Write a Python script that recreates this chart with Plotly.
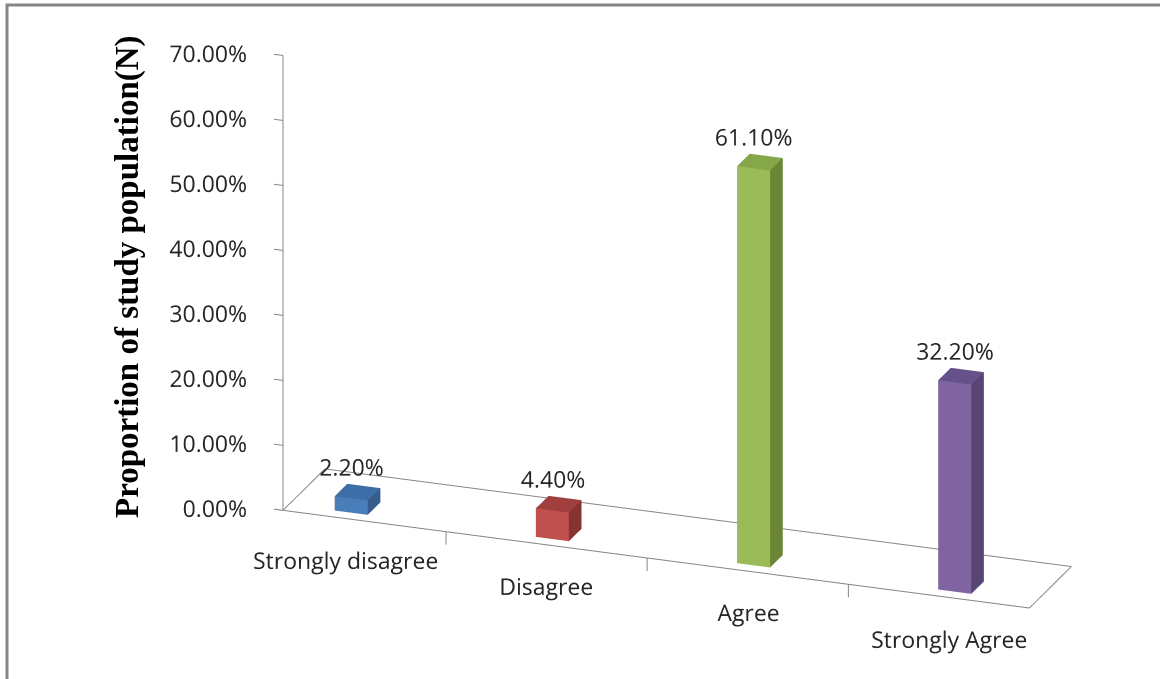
import math
import plotly.graph_objects as go

# ---------------- data ----------------
categories = ["Strongly disagree", "Disagree", "Agree", "Strongly Agree"]
values = [0.022, 0.044, 0.611, 0.322]
value_labels = ["2.20%", "4.40%", "61.10%", "32.20%"]
tick_values = [0.0, 0.1, 0.2, 0.3, 0.4, 0.5, 0.6, 0.7]
tick_labels = ["0.00%", "10.00%", "20.00%", "30.00%", "40.00%", "50.00%", "60.00%", "70.00%"]
y_title = "Proportion of study population(N)"

front_colors = ["#4A7EBB", "#C0504D", "#9BBB59", "#8064A2"]
side_colors = ["#355C8C", "#873331", "#6A8536", "#584475"]
top_colors = ["#3E6EA8", "#A0403E", "#86A64A", "#67518A"]

# ---------------- geometry / style ----------------
AXIS_COLOR = "#868686"
TEXT_COLOR = "#262626"
FONT = "Open Sans"
FX0, FX1 = -0.31, len(categories) - 0.6      # floor extent (category axis)
FY0, FY1 = -0.5, 0.5                          # floor extent (depth)
ZMAX = tick_values[-1]
BAR_HALF_W = 0.082
BAR_Y0, BAR_Y1 = -0.36, -0.06

fig = go.Figure()

# bars as boxes
for i, (v, fc, sc, tc) in enumerate(zip(values, front_colors, side_colors, top_colors)):
    x0, x1 = i - BAR_HALF_W, i + BAR_HALF_W
    y0, y1 = BAR_Y0, BAR_Y1
    xs = [x0, x1, x1, x0, x0, x1, x1, x0]
    ys = [y0, y0, y1, y1, y0, y0, y1, y1]
    zs = [0, 0, 0, 0, v, v, v, v]
    tri = [
        (0, 1, 5, fc), (0, 5, 4, fc),      # front
        (1, 2, 6, sc), (1, 6, 5, sc),      # right side
        (4, 5, 6, tc), (4, 6, 7, tc),      # top
        (0, 3, 7, sc), (0, 7, 4, sc),      # left
        (3, 2, 6, sc), (3, 6, 7, sc),      # back
        (0, 1, 2, sc), (0, 2, 3, sc),      # bottom
    ]
    fig.add_trace(go.Mesh3d(
        x=xs, y=ys, z=zs,
        i=[t[0] for t in tri], j=[t[1] for t in tri], k=[t[2] for t in tri],
        facecolor=[t[3] for t in tri],
        flatshading=True,
        lighting=dict(ambient=1.0, diffuse=0.0, specular=0.0, roughness=1.0, fresnel=0.0),
        hoverinfo="skip", showscale=False,
    ))

line_style = dict(color=AXIS_COLOR, width=2)

# floor outline
fig.add_trace(go.Scatter3d(
    x=[FX0, FX1, FX1, FX0, FX0], y=[FY0, FY0, FY1, FY1, FY0], z=[0, 0, 0, 0, 0],
    mode="lines", line=line_style, hoverinfo="skip", showlegend=False))

# value axis line + ticks
fig.add_trace(go.Scatter3d(
    x=[FX0, FX0], y=[FY0, FY0], z=[0, ZMAX],
    mode="lines", line=line_style, hoverinfo="skip", showlegend=False))
for tv in tick_values:
    fig.add_trace(go.Scatter3d(
        x=[FX0 - 0.045, FX0], y=[FY0, FY0], z=[tv, tv],
        mode="lines", line=line_style, hoverinfo="skip", showlegend=False))
fig.add_trace(go.Scatter3d(
    x=[FX0 - 0.07] * len(tick_values), y=[FY0] * len(tick_values), z=tick_values,
    mode="text", text=tick_labels, textposition="middle left",
    textfont=dict(family=FONT, size=23, color=TEXT_COLOR), hoverinfo="skip", showlegend=False))

# category tick marks (between categories) on the front edge
for b in range(1, len(categories)):
    fig.add_trace(go.Scatter3d(
        x=[b - 0.5, b - 0.5], y=[FY0, FY0], z=[0, -0.02],
        mode="lines", line=line_style, hoverinfo="skip", showlegend=False))
fig.add_trace(go.Scatter3d(
    x=list(range(len(categories))), y=[FY0] * len(categories), z=[-0.068] * len(categories),
    mode="text", text=categories, textposition="middle center",
    textfont=dict(family=FONT, size=23, color=TEXT_COLOR), hoverinfo="skip", showlegend=False))

# data labels
fig.add_trace(go.Scatter3d(
    x=list(range(len(categories))), y=[BAR_Y0] * len(categories),
    z=[v + 0.048 for v in values],
    mode="text", text=value_labels, textposition="middle center",
    textfont=dict(family=FONT, size=23, color=TEXT_COLOR), hoverinfo="skip", showlegend=False))

# camera
phi = math.radians(20)
theta = math.radians(20)
r = 1.5
eye = dict(x=r * math.sin(phi) * math.cos(theta), y=-r * math.cos(phi) * math.cos(theta), z=r * math.sin(theta))

hidden = dict(visible=False, showgrid=False, zeroline=False, showbackground=False)
fig.update_layout(
    width=1160, height=679,
    margin=dict(l=0, r=0, t=0, b=0),
    paper_bgcolor="white",
    showlegend=False,
    scene=dict(
        domain=dict(x=[0.086, 0.966], y=[0.0, 1.0]),
        xaxis=dict(range=[-1.1, 3.6], **hidden),
        yaxis=dict(range=[-0.9, 0.55], **hidden),
        zaxis=dict(range=[-0.12, 0.76], **hidden),
        aspectmode="manual",
        aspectratio=dict(x=2.964, y=0.524, z=1.805),
        camera=dict(eye=eye, up=dict(x=0, y=0, z=1), center=dict(x=0, y=0, z=-0.03),
                    projection=dict(type="orthographic")),
        dragmode=False,
    ),
    annotations=[dict(
        text="<b>" + y_title + "</b>", xref="paper", yref="paper",
        x=127 / 1160, y=1 - 277 / 679, textangle=-90, showarrow=False,
        font=dict(family="Liberation Serif", size=33, color="black"),
        xanchor="center", yanchor="middle")],
    shapes=[dict(type="rect", xref="paper", yref="paper",
                 x0=7 / 1160, x1=1.05, y0=-0.05, y1=1 - 5 / 679,
                 line=dict(color="#868686", width=3))],
)

fig.write_html("out.html")
